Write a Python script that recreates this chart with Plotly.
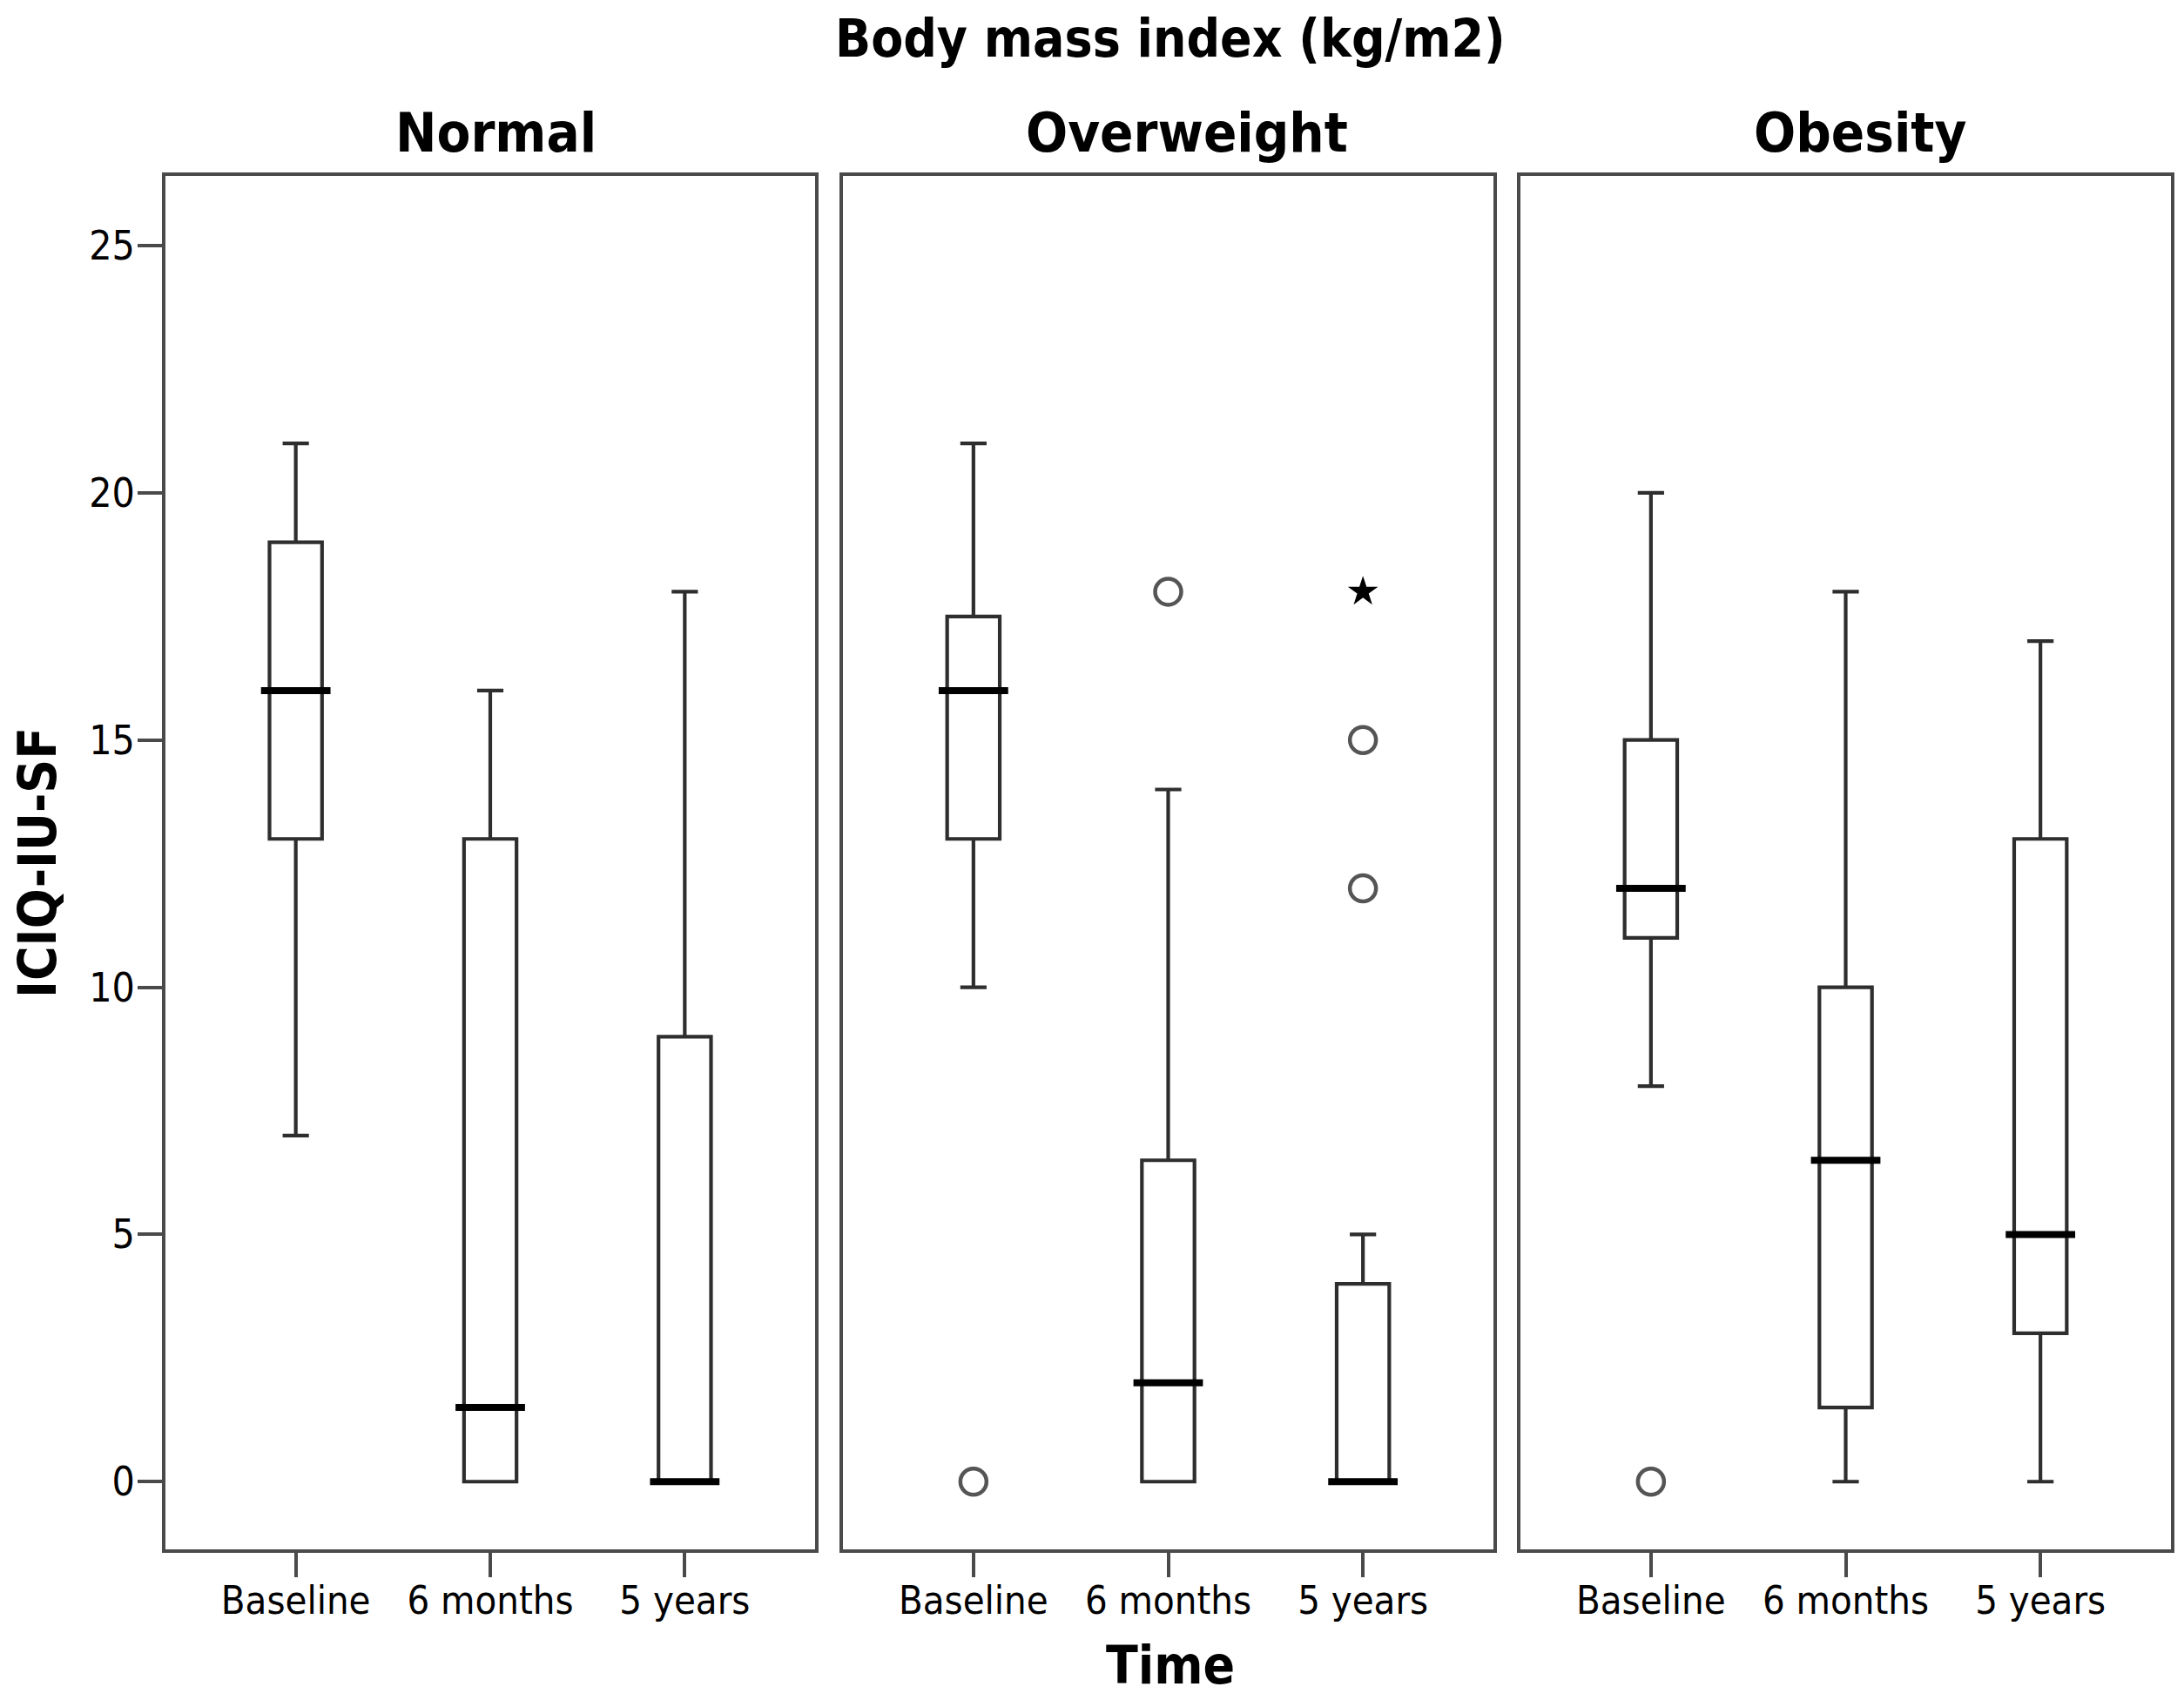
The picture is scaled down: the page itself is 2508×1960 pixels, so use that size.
import plotly.graph_objects as go

# ---------------- data ----------------
times = ["Baseline", "6 months", "5 years"]
groups = ["Normal", "Overweight", "Obesity"]

normal_low = [7, 0, 0]
normal_q1 = [13, 0, 0]
normal_med = [16, 1.5, 0]
normal_q3 = [19, 13, 9]
normal_high = [21, 16, 18]

over_low = [10, 0, 0]
over_q1 = [13, 0, 0]
over_med = [16, 2, 0]
over_q3 = [17.5, 6.5, 4]
over_high = [21, 14, 5]

obes_low = [8, 0, 0]
obes_q1 = [11, 1.5, 3]
obes_med = [12, 6.5, 5]
obes_q3 = [15, 10, 13]
obes_high = [20, 18, 17]

# outliers (circles) and extremes (stars)
outlier_group = [1, 1, 1, 1, 2]
outlier_time = ["Baseline", "6 months", "5 years", "5 years", "Baseline"]
outlier_value = [0, 18, 15, 12, 0]

extreme_group = [1]
extreme_time = ["5 years"]
extreme_value = [18]

y_ticks = [0, 5, 10, 15, 20, 25]

stats = [
    (normal_low, normal_q1, normal_med, normal_q3, normal_high),
    (over_low, over_q1, over_med, over_q3, over_high),
    (obes_low, obes_q1, obes_med, obes_q3, obes_high),
]

# ---------------- layout geometry ----------------
OFF = 8                      # page body margin of the html page
W, H = 2508 - 2 * OFF, 1960 - 2 * OFF
FONT = "DejaVu Sans Condensed, DejaVu Sans, sans-serif"
LINE = "#4a4a4a"
BOX_W = 0.27
BOX_PX = 57


def fx(px):
    return (px - OFF) / W


def fy(py):
    return 1 - (py - OFF) / H


x_domains = [[fx(190), fx(936)], [fx(968), fx(1715)], [fx(1746), fx(2493)]]
title_x_px = [569, 1363, 2136]
y_domain = [fy(1779), fy(202)]
x_range = [-0.67, 2.67]
y_range = [-1.37, 26.41]

fig = go.Figure()

for g, (lo, q1, med, q3, hi) in enumerate(stats):
    xa = "x" if g == 0 else f"x{g + 1}"
    ya = "y" if g == 0 else f"y{g + 1}"
    fig.add_trace(go.Box(
        x=times, q1=q1, median=med, q3=q3, lowerfence=lo, upperfence=hi,
        xaxis=xa, yaxis=ya, width=BOX_W, whiskerwidth=0.5,
        fillcolor="white", line=dict(color="#2e2e2e", width=4.2),
        boxpoints=False, showlegend=False, hoverinfo="skip",
    ))
    # thick median lines
    fig.add_trace(go.Scatter(
        x=times, y=med, xaxis=xa, yaxis=ya, mode="markers",
        marker=dict(symbol="line-ew", size=BOX_PX,
                    line=dict(color="black", width=8)),
        showlegend=False, hoverinfo="skip",
    ))
    ox = [t for gi, t in zip(outlier_group, outlier_time) if gi == g]
    oy = [v for gi, v in zip(outlier_group, outlier_value) if gi == g]
    if ox:
        fig.add_trace(go.Scatter(
            x=ox, y=oy, xaxis=xa, yaxis=ya, mode="markers",
            marker=dict(symbol="circle-open", size=30,
                        line=dict(color="#555555", width=4.5), color="#555555"),
            showlegend=False, hoverinfo="skip",
        ))
    ex = [t for gi, t in zip(extreme_group, extreme_time) if gi == g]
    ey = [v for gi, v in zip(extreme_group, extreme_value) if gi == g]
    if ex:
        fig.add_trace(go.Scatter(
            x=ex, y=ey, xaxis=xa, yaxis=ya, mode="markers",
            marker=dict(symbol="star", size=26, color="black",
                        line=dict(width=0)),
            showlegend=False, hoverinfo="skip",
        ))

layout = dict(
    width=W, height=H,
    margin=dict(l=0, r=0, t=0, b=0),
    paper_bgcolor="white", plot_bgcolor="white",
    font=dict(family=FONT, color="black", size=44),
    showlegend=False,
)

for g in range(3):
    xkey = "xaxis" if g == 0 else f"xaxis{g + 1}"
    ykey = "yaxis" if g == 0 else f"yaxis{g + 1}"
    ya = "y" if g == 0 else f"y{g + 1}"
    xa = "x" if g == 0 else f"x{g + 1}"
    layout[xkey] = dict(
        domain=x_domains[g], anchor=ya, type="category",
        categoryorder="array", categoryarray=times,
        range=x_range, showgrid=False, zeroline=False,
        showline=True, mirror=True, linecolor=LINE, linewidth=4,
        ticks="outside", ticklen=28, tickwidth=4, tickcolor=LINE,
        ticklabelstandoff=-12,
        tickfont=dict(family=FONT, size=45, color="black"),
        automargin=False, fixedrange=True,
    )
    layout[ykey] = dict(
        domain=y_domain, anchor=xa, range=y_range,
        tickvals=y_ticks, showgrid=False, zeroline=False,
        showline=True, mirror=True, linecolor=LINE, linewidth=4,
        ticks="outside" if g == 0 else "", ticklen=28, tickwidth=4,
        tickcolor=LINE, showticklabels=(g == 0),
        ticklabelstandoff=-6,
        tickfont=dict(family=FONT, size=46, color="black"),
        automargin=False, fixedrange=True,
    )

layout["yaxis"]["title"] = dict(
    text="ICIQ-IU-SF", standoff=52,
    font=dict(family=FONT, size=60, color="black", weight="bold"),
)

annotations = []
for g, name in enumerate(groups):
    annotations.append(dict(
        text=f"<b>{name}</b>", x=fx(title_x_px[g]), y=fy(152),
        xref="paper", yref="paper",
        xanchor="center", yanchor="middle", showarrow=False,
        font=dict(family=FONT, size=63, color="black"),
    ))
annotations.append(dict(
    text="<b>Body mass index (kg/m2)</b>", x=fx(1344), y=fy(44),
    xref="paper", yref="paper", xanchor="center", yanchor="middle",
    showarrow=False, font=dict(family=FONT, size=60, color="black"),
))
annotations.append(dict(
    text="<b>Time</b>", x=fx(1344), y=fy(1912),
    xref="paper", yref="paper", xanchor="center", yanchor="middle",
    showarrow=False, font=dict(family=FONT, size=60, color="black"),
))
layout["annotations"] = annotations

fig.update_layout(**layout)
fig.write_html("out.html")
